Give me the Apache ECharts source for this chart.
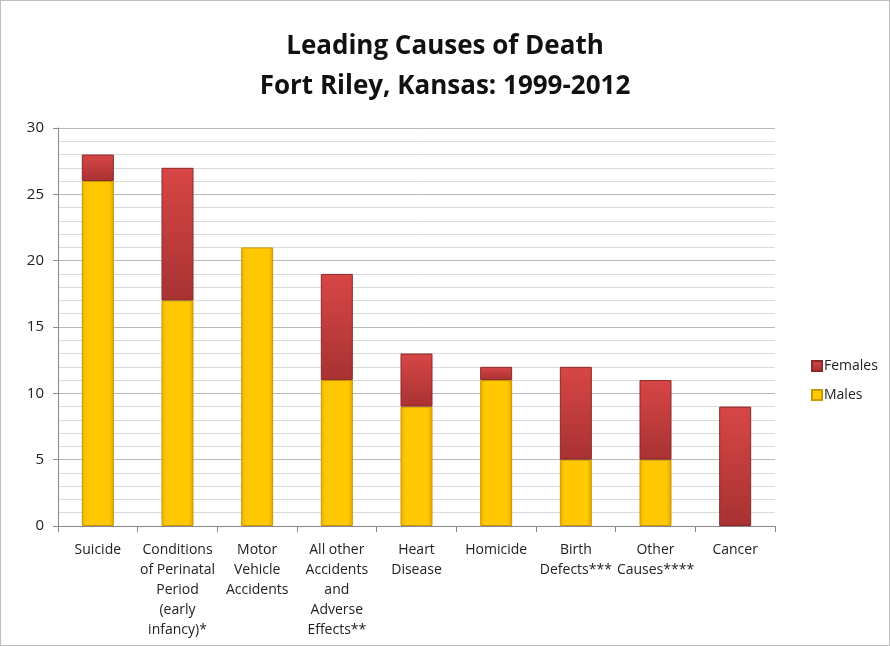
<!DOCTYPE html>
<html>
<head>
<meta charset="utf-8">
<script src="https://cdn.jsdelivr.net/npm/echarts@6/dist/echarts.min.js"></script>
<style>
  html, body { margin: 0; padding: 0; background: #fff; }
  #chart { width: 888px; height: 644px; border: 1px solid #bfbfbf; }
</style>
</head>
<body>
<div id="chart"></div>
<script>
var categories = ['Suicide', 'Conditions\nof Perinatal\nPeriod\n(early\ninfancy)*', 'Motor\nVehicle\nAccidents',
  'All other\nAccidents\nand\nAdverse\nEffects**', 'Heart\nDisease', 'Homicide', 'Birth\nDefects***',
  'Other\nCauses****', 'Cancer'];
var males = [26, 17, 21, 11, 9, 11, 5, 5, 0];
var females = [2, 10, 0, 8, 4, 1, 7, 6, 9];
var yTicks = [0, 5, 10, 15, 20, 25, 30];

var font = 'Open Sans';

// zero-height segments are not drawn
function noZero(arr) {
  return arr.map(function (v) { return v === 0 ? '-' : v; });
}

var chart = echarts.init(document.getElementById('chart'));
var option = {
  animation: false,
  title: {
    text: 'Leading Causes of Death\nFort Riley, Kansas: 1999-2012',
    left: 'center',
    top: 21,
    textStyle: { fontFamily: font, fontSize: 26, fontWeight: 'bold', color: '#111', lineHeight: 40 }
  },
  legend: {
    orient: 'vertical',
    left: 805,
    top: 353,
    itemGap: 15,
    itemWidth: 10,
    itemHeight: 10,
    icon: 'rect',
    data: ['Females', 'Males'],
    textStyle: { fontFamily: font, fontSize: 14, color: '#222', padding: [0, 0, 0, -3] }
  },
  grid: { left: 57, right: 114, top: 127, bottom: 119 },
  xAxis: {
    type: 'category',
    data: categories,
    axisLine: { lineStyle: { color: '#888' } },
    axisTick: { show: true, length: 6, lineStyle: { color: '#888' } },
    axisLabel: { fontFamily: font, fontSize: 14, color: '#222', lineHeight: 20, interval: 0, margin: 14 }
  },
  yAxis: {
    type: 'value',
    min: yTicks[0],
    max: yTicks[yTicks.length - 1],
    interval: 5,
    axisLine: { show: true, lineStyle: { color: '#888' } },
    axisTick: { show: true, length: 5, lineStyle: { color: '#888' } },
    axisLabel: { fontFamily: font, fontSize: 15, color: '#222', margin: 14 },
    splitLine: { lineStyle: { color: '#b8b8b8' } },
    minorTick: { show: false, splitNumber: 5 },
    minorSplitLine: { show: true, lineStyle: { color: '#dadada' } }
  },
  series: [
    {
      name: 'Males',
      type: 'bar',
      stack: 'total',
      barWidth: 32,
      data: noZero(males),
      itemStyle: {
        color: new echarts.graphic.LinearGradient(0, 0, 1, 0, [
          { offset: 0, color: '#e8b000' },
          { offset: 0.15, color: '#ffc800' },
          { offset: 0.85, color: '#ffc800' },
          { offset: 1, color: '#e0a800' }
        ]),
        borderColor: '#c89a00',
        borderWidth: 1
      }
    },
    {
      name: 'Females',
      type: 'bar',
      stack: 'total',
      barWidth: 32,
      data: noZero(females),
      itemStyle: {
        color: new echarts.graphic.LinearGradient(0, 0, 0, 1, [
          { offset: 0, color: '#d84646' },
          { offset: 1, color: '#a83232' }
        ]),
        borderColor: '#8c2828',
        borderWidth: 1
      }
    }
  ]
};
chart.setOption(option);
</script>
</body>
</html>
